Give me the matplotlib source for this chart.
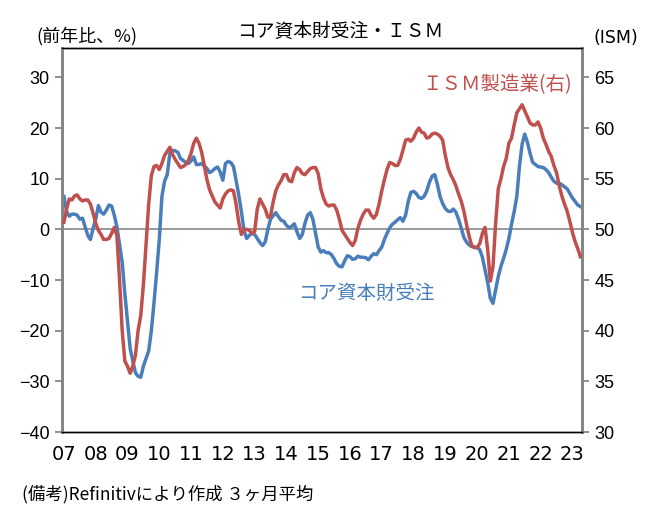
import numpy as np
import matplotlib
matplotlib.use('Agg')
import matplotlib.pyplot as plt

plt.rcParams['font.family'] = ['Noto Sans CJK JP', 'DejaVu Sans']

# monthly, Jan 2007 - Apr 2023
start_year = 2007
year_labels = ['07', '08', '09', '10', '11', '12', '13', '14', '15',
               '16', '17', '18', '19', '20', '21', '22', '23']

# core capital goods orders, 3 month average, % yoy
core_orders = [
    6.5, 3.5, 2.6, 3.0, 3.0, 2.8, 2.0, 2.2, 0.5, -1.2, -2.0, 0.2,
    2.0, 4.7, 3.4, 3.0, 3.8, 4.8, 4.6, 2.8, 0.5, -3.0, -6.5, -12.7,
    -18.0, -23.5, -26.0, -28.3, -29.0, -29.2, -27.0, -25.5, -24.0, -20.0, -14.5, -8.5,
    -2.0, 6.5, 9.5, 10.8, 15.0, 15.6, 15.5, 15.2, 14.0, 13.6, 13.2, 13.0,
    13.5, 14.3, 12.8, 12.8, 13.0, 12.5, 12.0, 11.2, 11.5, 12.0, 12.3, 11.3,
    9.7, 13.0, 13.4, 13.2, 12.4, 9.7, 6.8, 3.5, -0.3, -1.8, -1.2, -0.8,
    -1.0, -1.8, -2.6, -3.2, -2.5, 0.0, 2.0, 2.7, 3.3, 2.5, 1.8, 1.6,
    0.8, 0.3, 0.6, 1.1, -0.5, -1.8, -1.0, 1.2, 2.8, 3.3, 2.0, -0.8,
    -3.5, -4.5, -4.2, -4.6, -4.6, -5.0, -5.8, -6.8, -7.3, -7.4, -6.2, -5.2,
    -5.4, -5.9, -5.8, -5.3, -5.5, -5.5, -5.6, -6.0, -5.3, -4.8, -5.0, -4.2,
    -3.5, -2.0, -0.8, 0.3, 1.0, 1.4, 1.9, 2.3, 1.6, 2.8, 5.5, 7.3,
    7.5, 7.1, 6.3, 6.1, 6.5, 7.6, 9.3, 10.5, 10.8, 8.9, 6.5, 5.1,
    4.1, 3.6, 3.5, 4.0, 3.4, 2.0, 0.3, -1.6, -2.5, -3.1, -3.4, -3.5,
    -3.6, -4.0, -5.5, -8.0, -10.5, -13.6, -14.6, -12.0, -9.3, -7.3, -5.7, -4.0,
    -1.8, 1.0, 3.5, 6.5, 12.5, 16.8, 18.8, 17.2, 15.0, 13.2, 12.8, 12.4,
    12.3, 12.2, 11.8, 11.2, 10.3, 9.5, 9.1, 9.1, 8.8, 8.4, 8.0, 7.1,
    6.2, 5.5, 4.8, 4.5,
]

# ISM manufacturing, 3 month average
ism = [
    50.7, 52.0, 53.0, 52.9, 53.3, 53.4, 53.0, 52.8, 52.9, 52.9, 52.5, 51.6,
    50.6, 49.9, 49.5, 49.0, 49.0, 49.1, 49.6, 50.2, 49.4, 45.0, 40.0, 37.0,
    36.5, 35.8, 36.5, 37.6, 40.0, 41.5, 44.5, 48.5, 52.5, 55.3, 56.2, 56.3,
    55.9, 56.5, 57.3, 57.7, 58.1, 57.4, 56.9, 56.5, 56.1, 56.2, 56.4, 56.8,
    57.5, 58.5, 59.0, 58.5, 57.6, 56.3, 54.9, 53.9, 53.3, 52.7, 52.4, 52.1,
    53.0, 53.5, 53.8, 53.9, 53.8, 52.5, 50.7, 49.5, 50.0, 50.0, 49.9, 49.6,
    49.8, 52.0, 53.0, 52.5, 52.0, 51.2, 51.3, 52.7, 53.8, 54.4, 54.8, 55.4,
    55.4, 54.8, 54.7, 55.6, 56.1, 55.9, 55.5, 55.4, 55.7, 56.0, 56.1, 56.1,
    55.5, 54.0, 53.1, 52.5, 52.3, 52.4, 52.4, 51.9, 51.0, 49.9, 49.5, 49.1,
    48.7, 48.4, 48.9, 50.1, 50.9, 51.5, 51.9, 51.9, 51.4, 51.1, 51.5, 52.5,
    53.8, 54.9, 55.9, 56.6, 56.5, 56.3, 56.3, 56.9, 57.8, 58.8, 58.9, 58.7,
    59.0, 59.6, 60.0, 59.6, 59.5, 59.0, 59.1, 59.4, 59.5, 59.4, 59.2, 58.8,
    57.3, 56.1, 55.4, 54.9, 54.3, 53.5, 52.8, 51.8, 50.5, 49.3, 48.4, 48.2,
    48.2, 48.6, 49.6, 50.2, 48.0, 44.9, 46.3, 50.6, 54.0, 55.0, 56.2, 57.0,
    58.5, 59.0, 60.3, 61.5, 61.9, 62.3, 61.7, 61.1, 60.5, 60.3, 60.3, 60.6,
    60.0, 59.0, 58.4, 57.7, 57.2, 56.3, 55.6, 54.3, 53.3, 52.5, 51.8, 50.8,
    49.7, 48.8, 48.1, 47.3,
]

blue = '#4a7ebb'
red = '#c0504d'
grey = '#868686'

t = start_year + np.arange(len(core_orders)) / 12

fig = plt.figure(figsize=(6.55, 5.17), dpi=100)
ax = fig.add_axes([0.0947, 0.1644, 0.7938, 0.7428])
ax2 = ax.twinx()

ax.plot(t, core_orders, color=blue, lw=2.5, solid_joinstyle='round', zorder=3)
ax2.plot(t, ism, color=red, lw=2.5, solid_joinstyle='round', zorder=3)
ax.axhline(0, color=grey, lw=1.2, zorder=1)

top = 35.8
ax.set_ylim(-40, top)
ax2.set_ylim(30, 50 + top / 2)
ax.set_xlim(start_year - 0.06, 2023.3)
ax.set_yticks(np.arange(-40, 31, 10))
ax2.set_yticks(np.arange(30, 66, 5))

ax.set_xticks(start_year + np.arange(len(year_labels)))
ax.set_xticklabels(year_labels, family='Liberation Sans Narrow', fontsize=14)
ax.tick_params(axis='x', length=0, pad=9)
ax.tick_params(axis='y', direction='out', length=5, color=grey, width=1.3,
               labelsize=13, pad=4)
ax2.tick_params(axis='y', direction='out', length=5, color=grey, width=1.3,
                labelsize=13, pad=4)
for lab in ax.get_yticklabels() + ax2.get_yticklabels():
    lab.set_family('Liberation Sans')

for a in (ax, ax2):
    a.spines['top'].set_color('black')
    a.spines['bottom'].set_color('black')
    a.spines['top'].set_linewidth(1)
    a.spines['bottom'].set_linewidth(1)
    a.spines['left'].set_color(grey)
    a.spines['right'].set_color(grey)
    a.spines['left'].set_linewidth(2)
    a.spines['right'].set_linewidth(2)

fig.text(0.52, 0.94, 'コア資本財受注・ＩＳＭ', ha='center', va='center', fontsize=13.5)
fig.text(0.055, 0.93, '(前年比、%)', ha='left', va='center', fontsize=13)
fig.text(0.975, 0.927, '(ISM)', ha='right', va='center', fontsize=12.5,
         family='Liberation Sans Narrow')
ax.text(0.98, 0.905, 'ＩＳＭ製造業(右)', transform=ax.transAxes, ha='right',
        va='center', color=red, fontsize=14)
ax.text(0.455, 0.36, 'コア資本財受注', transform=ax.transAxes, ha='left',
        va='center', color=blue, fontsize=14)
fig.text(0.033, 0.045, '(備考)Refinitivにより作成 ３ヶ月平均', ha='left',
         va='center', fontsize=12.5)

fig.savefig('out.png', dpi=100)
